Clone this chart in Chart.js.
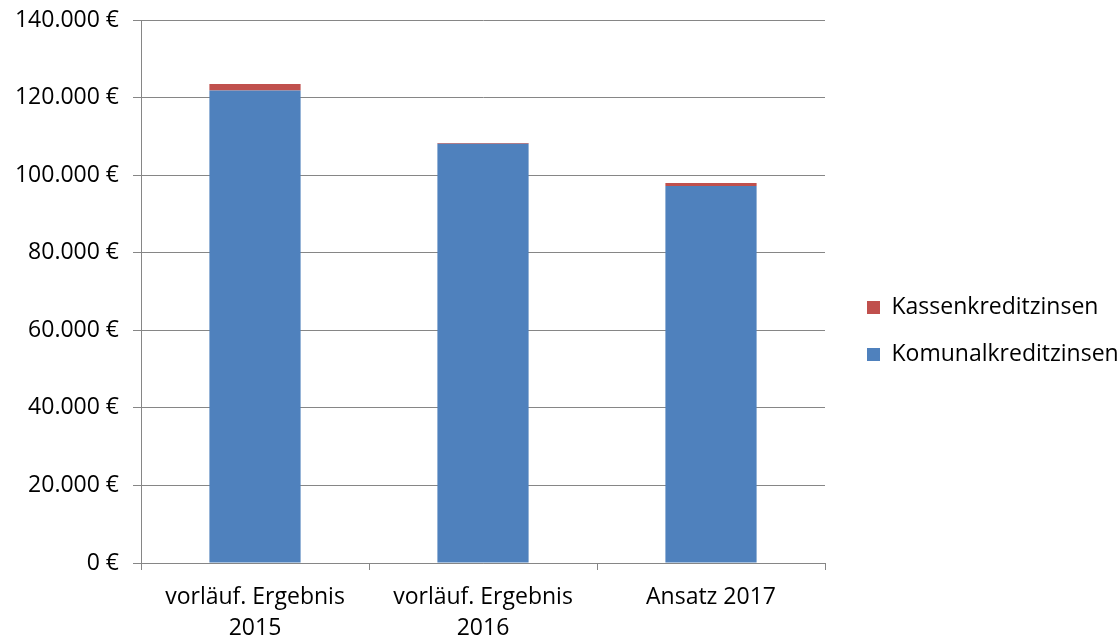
<!DOCTYPE html>
<html>
<head>
<meta charset="utf-8">
<script src="https://cdn.jsdelivr.net/npm/chart.js@4.4.0/dist/chart.umd.min.js"></script>
<style>
    html, body { margin: 0; padding: 0; background: #ffffff; }
    #wrap { width: 1120px; height: 642px; }
</style>
</head>
<body>
<div id="wrap"><canvas id="Chart1"></canvas></div>
<script>
// Werte
const categories = [["vorläuf. Ergebnis", "2015"], ["vorläuf. Ergebnis", "2016"], "Ansatz 2017"];
const komunalkredit = [121800, 108100, 97200];
const kassenkredit = [1700, 200, 800];
const yTicks = [0, 20000, 40000, 60000, 80000, 100000, 120000, 140000];

const axisColor = '#868686';
const fontFamily = "'Open Sans', sans-serif";

function formatEuro(v) {
    return String(v).replace(/\B(?=(\d{3})+(?!\d))/g, '.') + ' €';
}

const ctx = document.getElementById('Chart1').getContext('2d');
const chart = new Chart(ctx, {
    type: 'bar',
    data: {
        labels: categories,
        datasets: [{
                label: 'Komunalkreditzinsen',
                data: komunalkredit,
                backgroundColor: '#4f81bd',
                stack: 'Stack 0'
            }, {
                label: 'Kassenkreditzinsen',
                data: kassenkredit,
                backgroundColor: '#c0504d',
                stack: 'Stack 0'
            }]
    },
    options: {
        responsive: true,
        maintainAspectRatio: false,
        animation: false,
        categoryPercentage: 0.4,
        barPercentage: 1.0,
        layout: {padding: {top: 20, right: 0, left: 0, bottom: 0}},
        plugins: {
            legend: {
                position: 'right',
                reverse: true,
                maxWidth: 277,
                labels: {
                    boxWidth: 13,
                    boxHeight: 13,
                    padding: 24,
                    color: '#000000',
                    font: {family: fontFamily, size: 23}
                }
            },
            tooltip: {enabled: false}
        },
        scales: {
            x: {
                stacked: true,
                grid: {
                    display: true,
                    drawOnChartArea: false,
                    drawTicks: true,
                    tickLength: 7,
                    color: axisColor
                },
                border: {color: axisColor, width: 1},
                ticks: {
                    color: '#000000',
                    padding: 12,
                    maxRotation: 0,
                    font: {family: fontFamily, size: 23, lineHeight: 1.35}
                },
                afterFit: function (scale) {
                    scale.height = 79;
                }
            },
            y: {
                stacked: true,
                min: 0,
                max: 140000,
                afterBuildTicks: function (scale) {
                    scale.ticks = yTicks.map(v => ({value: v}));
                },
                grid: {
                    color: axisColor,
                    tickLength: 8,
                    drawTicks: true
                },
                border: {color: axisColor, width: 1},
                ticks: {
                    color: '#000000',
                    padding: 14,
                    font: {family: fontFamily, size: 23, lineHeight: 1.0},
                    callback: function (value) {
                        return formatEuro(value);
                    }
                },
                afterFit: function (scale) {
                    scale.width = 141;
                    scale.paddingTop = 0;
                }
            },
            // leerer Abstand zwischen Diagramm und Legende
            gap: {
                position: 'right',
                display: true,
                grid: {display: false},
                border: {display: false},
                ticks: {display: false},
                afterFit: function (scale) {
                    scale.width = 18;
                }
            }
        }
    }
});
</script>
</body>
</html>
